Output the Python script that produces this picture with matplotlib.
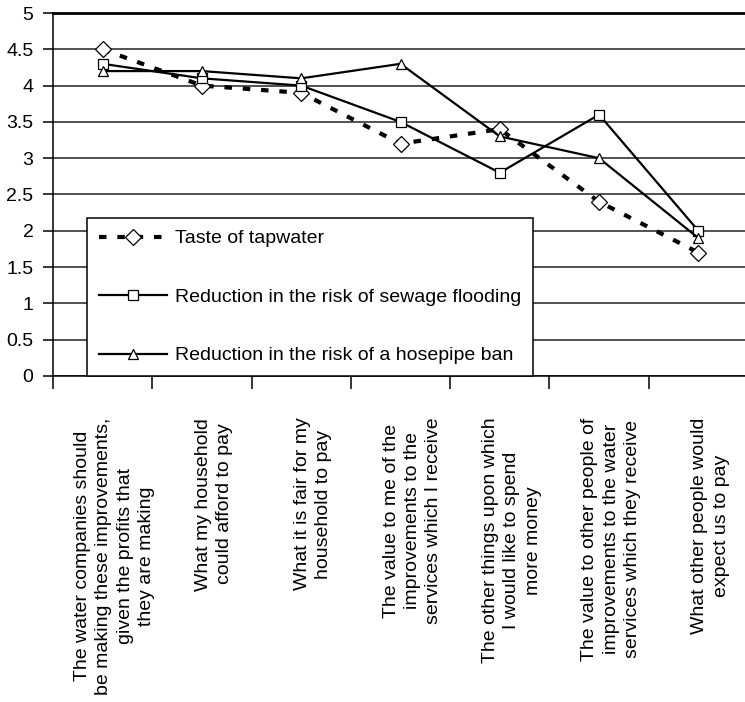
import numpy as np
import matplotlib
matplotlib.use('Agg')
import matplotlib.pyplot as plt
from matplotlib.transforms import ScaledTranslation

plt.rcParams['font.family'] = ['Liberation Sans', 'DejaVu Sans']

categories = [
    "The water companies should\nbe making these improvements,\ngiven the profits that\nthey are making",
    "What my household\ncould afford to pay",
    "What it is fair for my\nhousehold to pay",
    "The value to me of the\nimprovements to the\nservices which I receive",
    "The other things upon which\nI would like to spend\nmore money",
    "The value to other people of\nimprovements to the water\nservices which they receive",
    "What other people would\nexpect us to pay",
]
taste = [4.5, 4.0, 3.9, 3.2, 3.4, 2.4, 1.7]
sewage = [4.3, 4.1, 4.0, 3.5, 2.8, 3.6, 2.0]
hosepipe = [4.2, 4.2, 4.1, 4.3, 3.3, 3.0, 1.9]
yticks = [0, 0.5, 1, 1.5, 2, 2.5, 3, 3.5, 4, 4.5, 5]

def main():
    fig = plt.figure(figsize=(7.45, 7.02), dpi=100)
    ax = fig.add_axes([53/745, 1-376/702, 695/745, 363/702])
    x = np.arange(len(categories))

    ax.plot(x, taste, color='black', lw=3, dashes=(1.8, 2.6),
            marker='D', ms=8, mfc='white', mec='black', mew=0.9,
            label='Taste of tapwater', zorder=3)
    ax.plot(x, sewage, color='black', lw=1.6,
            marker='s', ms=7.5, mfc='white', mec='black', mew=0.9,
            label='Reduction in the risk of sewage flooding', zorder=3)
    ax.plot(x, hosepipe, color='black', lw=1.6,
            marker='^', ms=7.5, mfc='white', mec='black', mew=0.9,
            label='Reduction in the risk of a hosepipe ban', zorder=3)

    ax.set_xlim(-0.5, len(categories) - 0.5)
    ax.set_ylim(0, 5)
    ax.set_yticks(yticks)
    ax.set_yticklabels(['0', '0.5', '1', '1.5', '2', '2.5', '3', '3.5', '4', '4.5', '5'])
    ax.yaxis.grid(True, color='#222222', lw=1.1)
    ax.set_axisbelow(True)

    # boundaries between categories get the tick marks
    ax.set_xticks(np.arange(-0.5, len(categories), 1), minor=True)
    ax.set_xticks(x)
    ax.set_xticklabels(categories, rotation=90, ha='center', va='top',
                       fontsize=14, linespacing=1.33)
    ax.tick_params(axis='x', which='major', length=0, pad=30)
    ax.tick_params(axis='x', which='minor', length=9, width=1.1, direction='out')
    ax.tick_params(axis='y', length=7, width=1.1, labelsize=14, pad=7)
    offset = ScaledTranslation(12/100, 0, fig.dpi_scale_trans)
    for lab in ax.get_xticklabels():
        lab.set_transform(lab.get_transform() + offset)

    ax.spines['right'].set_visible(False)
    ax.spines['top'].set_linewidth(2)
    for s in ('left', 'bottom'):
        ax.spines[s].set_linewidth(1.1)

    leg = ax.legend(loc='lower left', bbox_to_anchor=(34/695, 0), borderaxespad=0,
                    fontsize=14, frameon=True, fancybox=False, handlelength=3.5,
                    handletextpad=0.45, labelspacing=2.1, borderpad=0.6)
    leg.get_frame().set_edgecolor('black')
    leg.get_frame().set_linewidth(1.1)
    leg.get_frame().set_alpha(1)

    fig.savefig('out.png', dpi=100)

main()
